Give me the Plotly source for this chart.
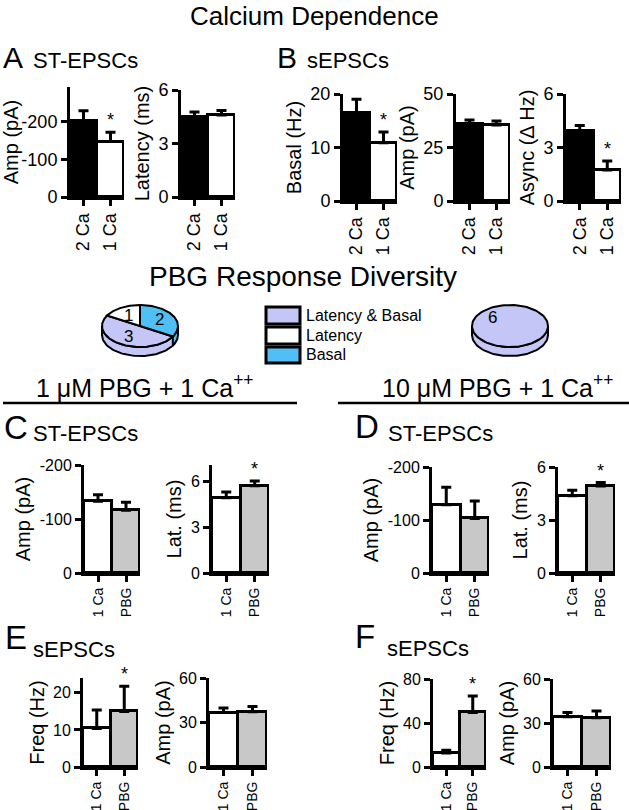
import numpy as np
import plotly.graph_objects as go

W, H = 629, 810

BLACK = '#000000'
WHITE = '#FFFFFF'
GRAY = '#C8C8C8'
LAVENDER = '#C3C6F6'
BLUE = '#4FBFF5'

# ---- data ----
ca_groups = ['2 Ca', '1 Ca']
pbg_groups = ['1 Ca', 'PBG']

# A: ST-EPSCs, calcium dependence
a_amp = [-203, -147]
a_amp_err = [26, 25]
a_lat = [4.5, 4.6]
a_lat_err = [0.27, 0.25]

# B: sEPSCs, calcium dependence
b_basal = [16.4, 10.9]
b_basal_err = [2.6, 2.0]
b_amp = [36.0, 35.5]
b_amp_err = [1.9, 1.9]
b_async = [3.93, 1.74]
b_async_err = [0.30, 0.51]

# C: ST-EPSCs, 1 uM PBG
c_amp = [-133, -116]
c_amp_err = [12, 15]
c_lat = [4.94, 5.73]
c_lat_err = [0.39, 0.32]

# D: ST-EPSCs, 10 uM PBG
d_amp = [-129, -103]
d_amp_err = [33, 33]
d_lat = [4.37, 4.93]
d_lat_err = [0.32, 0.19]

# E: sEPSCs, 1 uM PBG
e_freq = [10.4, 15.0]
e_freq_err = [5.0, 6.8]
e_amp = [36.7, 37.2]
e_amp_err = [3.0, 3.6]

# F: sEPSCs, 10 uM PBG
f_freq = [12.8, 49.6]
f_freq_err = [2.4, 14.9]
f_amp = [34.2, 33.5]
f_amp_err = [3.0, 4.6]

# response diversity pies
pie_labels = ['Latency & Basal', 'Latency', 'Basal']
pie_1um = [3, 1, 2]
pie_10um = [6, 0, 0]
pie_colors = [LAVENDER, WHITE, BLUE]

FONT = 'Liberation Sans, Arial, sans-serif'


def px_x(x):
    return x / W


def px_y(y):
    return 1 - y / H


# panel setup: which arrays, where (pixel box left, right, top, bottom), axis
panels = [
    dict(cats=ca_groups, vals=a_amp, errs=a_amp_err, colors=[BLACK, WHITE], star=1,
         box=(70, 124, 87, 197), yrange=[0, -292], tickvals=[0, -100, -200],
         title='Amp (pA)', big=True),
    dict(cats=ca_groups, vals=a_lat, errs=a_lat_err, colors=[BLACK, WHITE], star=None,
         box=(181, 235, 90, 197), yrange=[0, 6], tickvals=[0, 3, 6],
         title='Latency (ms)', big=True),
    dict(cats=ca_groups, vals=b_basal, errs=b_basal_err, colors=[BLACK, WHITE], star=1,
         box=(343, 397, 94, 201), yrange=[0, 20], tickvals=[0, 10, 20],
         title='Basal (Hz)', big=True),
    dict(cats=ca_groups, vals=b_amp, errs=b_amp_err, colors=[BLACK, WHITE], star=None,
         box=(456, 510, 94, 201), yrange=[0, 50], tickvals=[0, 25, 50],
         title='Amp (pA)', big=True),
    dict(cats=ca_groups, vals=b_async, errs=b_async_err, colors=[BLACK, WHITE], star=1,
         box=(566, 621, 94, 201), yrange=[0, 6], tickvals=[0, 3, 6],
         title='Async (\u0394 Hz)', big=True),
    dict(cats=pbg_groups, vals=c_amp, errs=c_amp_err, colors=[WHITE, GRAY], star=None,
         box=(84, 140, 465, 573), yrange=[0, -200], tickvals=[0, -100, -200],
         title='Amp (pA)', big=False),
    dict(cats=pbg_groups, vals=c_lat, errs=c_lat_err, colors=[WHITE, GRAY], star=1,
         box=(212, 269, 465, 573), yrange=[0, 7.1], tickvals=[0, 3, 6],
         title='Lat. (ms)', big=False),
    dict(cats=pbg_groups, vals=d_amp, errs=d_amp_err, colors=[WHITE, GRAY], star=None,
         box=(432, 489, 467, 573), yrange=[0, -200], tickvals=[0, -100, -200],
         title='Amp (pA)', big=False),
    dict(cats=pbg_groups, vals=d_lat, errs=d_lat_err, colors=[WHITE, GRAY], star=1,
         box=(558, 615, 467, 573), yrange=[0, 6], tickvals=[0, 3, 6],
         title='Lat. (ms)', big=False),
    dict(cats=pbg_groups, vals=e_freq, errs=e_freq_err, colors=[WHITE, GRAY], star=1,
         box=(83, 138, 678, 767), yrange=[0, 24], tickvals=[0, 10, 20],
         title='Freq (Hz)', big=False),
    dict(cats=pbg_groups, vals=e_amp, errs=e_amp_err, colors=[WHITE, GRAY], star=None,
         box=(209, 267, 678, 767), yrange=[0, 60], tickvals=[0, 30, 60],
         title='Amp (pA)', big=False),
    dict(cats=pbg_groups, vals=f_freq, errs=f_freq_err, colors=[WHITE, GRAY], star=1,
         box=(433, 486, 679, 767), yrange=[0, 80], tickvals=[0, 40, 80],
         title='Freq (Hz)', big=False),
    dict(cats=pbg_groups, vals=f_amp, errs=f_amp_err, colors=[WHITE, GRAY], star=None,
         box=(553, 611, 679, 767), yrange=[0, 60], tickvals=[0, 30, 60],
         title='Amp (pA)', big=False),
]

fig = go.Figure()
axes = {}
annotations = []
shapes = []

for i, p in enumerate(panels, start=1):
    xa, ya = f'x{i}', f'y{i}'
    x0, x1, top, bottom = p['box']
    vals, errs = p['vals'], p['errs']
    # error bars only point away from zero
    up = [e if v >= 0 else 0 for v, e in zip(vals, errs)]
    down = [0 if v >= 0 else e for v, e in zip(vals, errs)]
    fig.add_trace(go.Bar(
        x=p['cats'], y=vals, xaxis=xa, yaxis=ya, width=1,
        marker=dict(color=p['colors'], line=dict(color=BLACK, width=3)),
        error_y=dict(type='data', symmetric=False, array=up, arrayminus=down,
                     color=BLACK, thickness=3, width=5),
        hoverinfo='skip', showlegend=False))

    tick_size = 18 if p['big'] else 16
    cat_size = 18 if p['big'] else 14
    axes[f'xaxis{i}'] = dict(
        domain=[px_x(x0), px_x(x1)], anchor=ya, type='category',
        range=[-0.5, 1.5], showline=True, linewidth=3, linecolor=BLACK,
        ticks='outside', ticklen=6, tickwidth=3, tickcolor=BLACK,
        tickangle=-90, tickfont=dict(size=cat_size, color=BLACK),
        showgrid=False, zeroline=False, fixedrange=True, automargin=False)
    axes[f'yaxis{i}'] = dict(
        domain=[px_y(bottom), px_y(top)], anchor=xa, range=p['yrange'],
        tickvals=p['tickvals'], ticktext=[str(v) for v in p['tickvals']],
        showline=True, linewidth=3, linecolor=BLACK,
        ticks='outside', ticklen=6, tickwidth=3, tickcolor=BLACK,
        tickfont=dict(size=tick_size, color=BLACK),
        title=dict(text=p['title'], font=dict(size=20, color=BLACK), standoff=4),
        showgrid=False, zeroline=False, fixedrange=True, automargin=False)

    if p['star'] is not None:
        k = p['star']
        v, e = vals[k], errs[k]
        annotations.append(dict(
            x=p['cats'][k], y=v + e if v >= 0 else v - e, xref=xa, yref=ya,
            text='*', showarrow=False, yanchor='bottom', xanchor='center',
            font=dict(size=18, color=BLACK)))


def add_pie(values, start, idx, cx, cy):
    xa, ya = f'x{idx}', f'y{idx}'
    rx, ry, depth = 38, 21, 0.43
    xr, yr = [-1.05, 1.05], [-1.5, 1.05]
    axes[f'xaxis{idx}'] = dict(domain=[px_x(cx + xr[0] * rx), px_x(cx + xr[1] * rx)],
                               range=xr, visible=False, anchor=ya, fixedrange=True)
    axes[f'yaxis{idx}'] = dict(domain=[px_y(cy - yr[0] * ry), px_y(cy - yr[1] * ry)],
                               range=yr, visible=False, anchor=xa, fixedrange=True)
    total = sum(values)
    a = start
    slices = []
    for v, col in zip(values, pie_colors):
        if v <= 0:
            continue
        span = 360.0 * v / total
        slices.append((v, col, a, a - span))
        a -= span

    # visible side of the disc (front half)
    for v, col, a0, a1 in slices:
        if a0 - a1 >= 360:
            parts = [(-180, 0)]
        else:
            parts = []
            for k in range(-3, 3):
                lo, hi = max(a1, 180 + 360 * k), min(a0, 360 + 360 * k)
                if hi > lo:
                    parts.append((lo, hi))
        for lo, hi in parts:
            t = np.radians(np.linspace(lo, hi, 60))
            xs = np.concatenate([np.cos(t), np.cos(t[::-1]), [np.cos(t[0])]])
            ys = np.concatenate([np.sin(t), np.sin(t[::-1]) - depth, [np.sin(t[0])]])
            fig.add_trace(go.Scatter(x=xs, y=ys, xaxis=xa, yaxis=ya, mode='lines',
                                     fill='toself', fillcolor=col,
                                     line=dict(color=BLACK, width=2),
                                     hoverinfo='skip', showlegend=False))

    # top face
    for v, col, a0, a1 in slices:
        t = np.radians(np.linspace(a0, a1, 120))
        if a0 - a1 >= 360:
            xs, ys = np.cos(t), np.sin(t)
        else:
            xs = np.concatenate([[0], np.cos(t), [0]])
            ys = np.concatenate([[0], np.sin(t), [0]])
        fig.add_trace(go.Scatter(x=xs, y=ys, xaxis=xa, yaxis=ya, mode='lines',
                                 fill='toself', fillcolor=col,
                                 line=dict(color=BLACK, width=2),
                                 hoverinfo='skip', showlegend=False))
        mid = np.radians((a0 + a1) / 2)
        annotations.append(dict(x=0.6 * np.cos(mid), y=0.6 * np.sin(mid), xref=xa, yref=ya,
                                text=str(v), showarrow=False,
                                font=dict(size=17, color=BLACK)))


add_pie(pie_1um, -30, 14, 140, 326)
add_pie(pie_10um, -40, 15, 510, 326)

# legend for the pies
legend_rows = [(307, 324), (327, 344), (347, 363)]
for lab, col, (t, b) in zip(pie_labels, pie_colors, legend_rows):
    shapes.append(dict(type='rect', xref='paper', yref='paper',
                       x0=px_x(266), x1=px_x(300), y0=px_y(b), y1=px_y(t),
                       fillcolor=col, line=dict(color=BLACK, width=3)))
    annotations.append(dict(x=px_x(304), y=px_y((t + b) / 2), xref='paper', yref='paper',
                            text=lab, showarrow=False, xanchor='left', yanchor='middle',
                            font=dict(size=16, color=BLACK)))

# divider lines under the concentration headings
for xs in [(3, 297), (338, 629)]:
    shapes.append(dict(type='line', xref='paper', yref='paper',
                       x0=px_x(xs[0]), x1=px_x(xs[1]), y0=px_y(403), y1=px_y(403),
                       line=dict(color=BLACK, width=2.5)))

# headings and panel labels (text, x, y, size, anchor)
texts = [
    ('Calcium Dependence', 314, 16, 26, 'center'),
    ('PBG Response Diversity', 303, 276, 28, 'center'),
    ('A', 1, 57, 30, 'left'),
    ('ST-EPSCs', 31, 60, 22, 'left'),
    ('B', 275, 57, 30, 'left'),
    ('sEPSCs', 305, 61, 22, 'left'),
    ('1 \u03bcM PBG + 1 Ca<sup>++</sup>', 145, 386, 25, 'center'),
    ('10 \u03bcM PBG + 1 Ca<sup>++</sup>', 497, 386, 25, 'center'),
    ('C', 2, 428, 33, 'left'),
    ('ST-EPSCs', 31, 434, 22, 'left'),
    ('D', 353, 426, 33, 'left'),
    ('ST-EPSCs', 386, 433, 22, 'left'),
    ('E', 3, 637, 33, 'left'),
    ('sEPSCs', 31, 649, 22, 'left'),
    ('F', 353, 636, 33, 'left'),
    ('sEPSCs', 385, 648, 22, 'left'),
]
for txt, x, y, size, anchor in texts:
    annotations.append(dict(x=px_x(x), y=px_y(y), xref='paper', yref='paper', text=txt,
                            showarrow=False, xanchor=anchor, yanchor='middle',
                            font=dict(size=size, color=BLACK)))

fig.update_layout(
    width=W, height=H,
    margin=dict(l=0, r=0, t=0, b=0, autoexpand=False),
    paper_bgcolor='white', plot_bgcolor='white',
    font=dict(family=FONT, color=BLACK),
    showlegend=False, bargap=0,
    annotations=annotations, shapes=shapes,
    **axes
)

# drop the browser's default 8px body margin so the figure sits at the page origin
fig.write_html("out.html", config={'displayModeBar': False},
               post_script="document.body.style.margin='0';document.body.style.overflow='hidden';")
